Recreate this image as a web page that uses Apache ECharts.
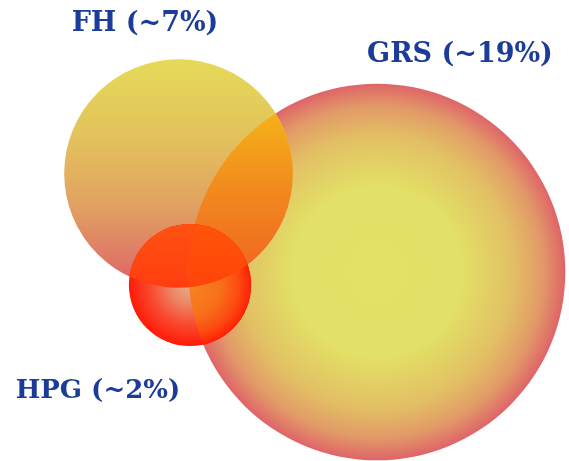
<!DOCTYPE html>
<html>
<head>
<meta charset="utf-8">
<script src="https://cdn.jsdelivr.net/npm/echarts@6/dist/echarts.min.js"></script>
<style>
  html, body { margin: 0; padding: 0; background: #ffffff; }
  #chart { width: 569px; height: 461px; }
</style>
</head>
<body>
<div id="chart"></div>
<script>
// Three overlapping groups; circle area is proportional to the share.
const names = ['GRS', 'FH', 'HPG'];
const shares = [19, 7, 2];            // percent
const centerX = [377, 178.5, 190];    // circle centres, plot units
const centerY = [272, 173.5, 285];

// plot units of radius per sqrt(percent)
const RADIUS_PER_ROOT_PCT = 43.2;

const chart = echarts.init(document.getElementById('chart'), null, { renderer: 'canvas' });

function circleOf(api, i) {
  const p = api.coord([centerX[i], centerY[i]]);
  const r = api.size([RADIUS_PER_ROOT_PCT * Math.sqrt(shares[i]), 0])[0];
  return { cx: p[0], cy: p[1], r: r };
}

function radial(stops) {
  return { type: 'radial', x: 0.5, y: 0.5, r: 0.5, colorStops: stops };
}
function vertical(stops) {
  return { type: 'linear', x: 0, y: 0, x2: 0, y2: 1, colorStops: stops };
}
function st(list) {
  return list.map(function (s) { return { offset: s[0], color: s[1] }; });
}

const fills = {
  GRS: radial(st([[0, '#e2e266'], [0.45, '#e2e066'], [0.72, '#e2c064'], [0.88, '#e29a68'], [1, '#df6468']])),
  FH: vertical(st([[0, '#e5da58'], [0.35, '#e3c15c'], [0.65, '#e1a062'], [1, '#dd6268']])),
  FH_GRS: vertical(st([[0, '#f8c816'], [0.3, '#f4aa1a'], [0.6, '#f2861e'], [1, '#ee6024']])),
  HPG: radial(st([[0, '#e6ae90'], [0.3, '#ec8868'], [0.65, '#f84a30'], [1, '#ff1a06']])),
  HPG_FH: vertical(st([[0, '#ff5212'], [0.5, '#ff3e10'], [1, '#ff280c']])),
  HPG_GRS: radial(st([[0, '#f68420'], [0.5, '#f8701a'], [0.8, '#fc4a10'], [1, '#ff2006']])),
  HPG_ALL: vertical(st([[0, '#ff5408'], [0.5, '#ff440a'], [1, '#ff300a']]))
};

function renderItem(params, api) {
  const i = params.dataIndex;
  const c = circleOf(api, i);
  const name = names[i];
  const children = [{ type: 'circle', shape: c, style: { fill: fills[name] } }];

  if (name === 'FH') {
    const g = circleOf(api, names.indexOf('GRS'));
    children.push({
      type: 'circle', shape: c, style: { fill: fills.FH_GRS },
      clipPath: { type: 'circle', shape: g }
    });
  }
  if (name === 'HPG') {
    const g = circleOf(api, names.indexOf('GRS'));
    const f = circleOf(api, names.indexOf('FH'));
    children.push({
      type: 'circle', shape: c, style: { fill: fills.HPG_FH },
      clipPath: { type: 'circle', shape: f }
    });
    children.push({
      type: 'circle', shape: c, style: { fill: fills.HPG_GRS },
      clipPath: { type: 'circle', shape: g }
    });
    children.push({
      type: 'group',
      clipPath: { type: 'circle', shape: g },
      children: [{
        type: 'circle', shape: c, style: { fill: fills.HPG_ALL },
        clipPath: { type: 'circle', shape: f }
      }]
    });
  }
  return { type: 'group', children: children };
}

const labelFont = 'bold 27px "DejaVu Serif", "Liberation Serif", serif';
const labelColor = '#1c3c9a';
function labelText(i) { return names[i] + ' (~' + shares[i] + '%)'; }

chart.setOption({
  animation: false,
  grid: { left: 0, right: 0, top: 0, bottom: 0 },
  xAxis: { type: 'value', min: 0, max: 569, show: false },
  yAxis: { type: 'value', min: 0, max: 461, inverse: true, show: false },
  series: [{
    type: 'custom',
    renderItem: renderItem,
    data: names.map(function (n, i) { return [centerX[i], centerY[i], shares[i]]; }),
    encode: { x: 0, y: 1 },
    silent: true
  }],
  graphic: [
    { type: 'text', x: 145, y: 24, style: { text: labelText(1), font: labelFont, fill: labelColor, textAlign: 'center', textVerticalAlign: 'middle' } },
    { type: 'text', x: 460, y: 55, style: { text: labelText(0), font: labelFont, fill: labelColor, textAlign: 'center', textVerticalAlign: 'middle' } },
    { type: 'text', x: 98, y: 391, style: { text: labelText(2), font: 'bold 26px "DejaVu Serif", "Liberation Serif", serif', fill: labelColor, textAlign: 'center', textVerticalAlign: 'middle' } }
  ]
});
</script>
</body>
</html>
